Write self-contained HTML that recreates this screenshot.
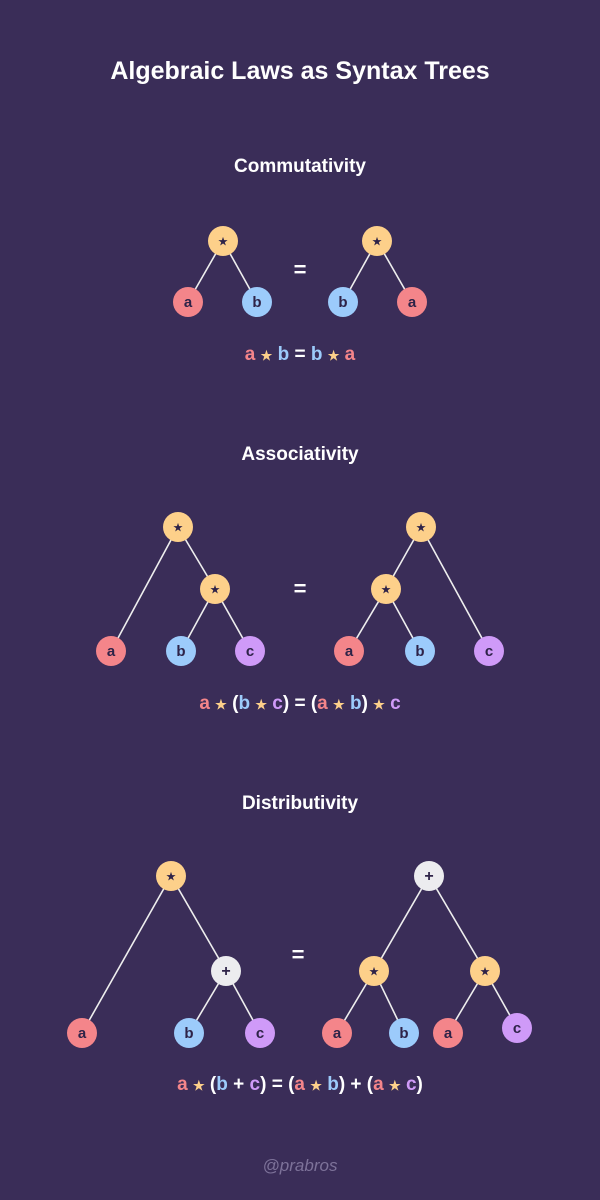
<!DOCTYPE html>
<html><head><meta charset="utf-8"><style>
html,body{margin:0;padding:0;background:#3a2d58;}
svg{display:block}
text{font-family:"Liberation Sans",sans-serif;}
</style></head><body>
<svg width="600" height="1200" viewBox="0 0 600 1200">
<rect width="600" height="1200" fill="#3a2d58"/>
<g fill="#fff" font-weight="bold" text-anchor="middle">
<text x="300" y="79" font-size="25">Algebraic Laws as Syntax Trees</text>
<text x="300" y="172" font-size="19">Commutativity</text>
<text x="300" y="460" font-size="19">Associativity</text>
<text x="300" y="809" font-size="19">Distributivity</text>
<text x="300" y="277" font-size="22">=</text>
<text x="300" y="596" font-size="22">=</text>
<text x="298" y="962" font-size="22">=</text>
</g>
<g stroke="#eee" stroke-width="1.6">
<line x1="223" y1="241" x2="188" y2="302"/><line x1="223" y1="241" x2="257" y2="302"/>
<line x1="377" y1="241" x2="343" y2="302"/><line x1="377" y1="241" x2="412" y2="302"/>
<line x1="178" y1="527" x2="111" y2="651"/><line x1="178" y1="527" x2="215" y2="589"/>
<line x1="215" y1="589" x2="181" y2="651"/><line x1="215" y1="589" x2="250" y2="651"/>
<line x1="421" y1="527" x2="386" y2="589"/><line x1="421" y1="527" x2="489" y2="651"/>
<line x1="386" y1="589" x2="349" y2="651"/><line x1="386" y1="589" x2="420" y2="651"/>
<line x1="171" y1="876" x2="82" y2="1033"/><line x1="171" y1="876" x2="226" y2="971"/>
<line x1="226" y1="971" x2="189" y2="1033"/><line x1="226" y1="971" x2="260" y2="1033"/>
<line x1="429" y1="876" x2="374" y2="971"/><line x1="429" y1="876" x2="485" y2="971"/>
<line x1="374" y1="971" x2="337" y2="1033"/><line x1="374" y1="971" x2="404" y2="1033"/>
<line x1="485" y1="971" x2="448" y2="1033"/><line x1="485" y1="971" x2="517" y2="1028"/>
</g>
<defs>
<g id="s"><circle r="15" fill="#fdd08a"/><text y="4.5" font-size="12" fill="#2e2348" text-anchor="middle">★</text></g>
<g id="p"><circle r="15" fill="#ececef"/><text y="5" font-size="16" font-weight="bold" fill="#2e2348" text-anchor="middle">+</text></g>
<g id="a"><circle r="15" fill="#f4858a"/><text y="5" font-size="15" font-weight="bold" fill="#2e2348" text-anchor="middle">a</text></g>
<g id="b"><circle r="15" fill="#9ccbfb"/><text y="5" font-size="15" font-weight="bold" fill="#2e2348" text-anchor="middle">b</text></g>
<g id="c"><circle r="15" fill="#cf9af8"/><text y="5" font-size="15" font-weight="bold" fill="#2e2348" text-anchor="middle">c</text></g>
</defs>
<use href="#s" x="223" y="241"/><use href="#a" x="188" y="302"/><use href="#b" x="257" y="302"/>
<use href="#s" x="377" y="241"/><use href="#b" x="343" y="302"/><use href="#a" x="412" y="302"/>
<use href="#s" x="178" y="527"/><use href="#s" x="215" y="589"/><use href="#a" x="111" y="651"/><use href="#b" x="181" y="651"/><use href="#c" x="250" y="651"/>
<use href="#s" x="421" y="527"/><use href="#s" x="386" y="589"/><use href="#a" x="349" y="651"/><use href="#b" x="420" y="651"/><use href="#c" x="489" y="651"/>
<use href="#s" x="171" y="876"/><use href="#p" x="226" y="971"/><use href="#a" x="82" y="1033"/><use href="#b" x="189" y="1033"/><use href="#c" x="260" y="1033"/>
<use href="#p" x="429" y="876"/><use href="#s" x="374" y="971"/><use href="#s" x="485" y="971"/><use href="#a" x="337" y="1033"/><use href="#b" x="404" y="1033"/><use href="#a" x="448" y="1033"/><use href="#c" x="517" y="1028"/>
<g font-size="19" font-weight="bold" text-anchor="middle" fill="#fff">
<text x="300" y="360"><tspan fill="#f4858a">a</tspan> <tspan fill="#fdd08a" font-size="13">★</tspan> <tspan fill="#9ccbfb">b</tspan> = <tspan fill="#9ccbfb">b</tspan> <tspan fill="#fdd08a" font-size="13">★</tspan> <tspan fill="#f4858a">a</tspan></text>
<text x="300" y="709"><tspan fill="#f4858a">a</tspan> <tspan fill="#fdd08a" font-size="13">★</tspan> (<tspan fill="#9ccbfb">b</tspan> <tspan fill="#fdd08a" font-size="13">★</tspan> <tspan fill="#cf9af8">c</tspan>) = (<tspan fill="#f4858a">a</tspan> <tspan fill="#fdd08a" font-size="13">★</tspan> <tspan fill="#9ccbfb">b</tspan>) <tspan fill="#fdd08a" font-size="13">★</tspan> <tspan fill="#cf9af8">c</tspan></text>
<text x="300" y="1090"><tspan fill="#f4858a">a</tspan> <tspan fill="#fdd08a" font-size="13">★</tspan> (<tspan fill="#9ccbfb">b</tspan> + <tspan fill="#cf9af8">c</tspan>) = (<tspan fill="#f4858a">a</tspan> <tspan fill="#fdd08a" font-size="13">★</tspan> <tspan fill="#9ccbfb">b</tspan>) + (<tspan fill="#f4858a">a</tspan> <tspan fill="#fdd08a" font-size="13">★</tspan> <tspan fill="#cf9af8">c</tspan>)</text>
</g>
<text x="300" y="1171" font-size="17" font-style="italic" fill="#7d7299" text-anchor="middle">@prabros</text>
</svg>
</body></html>
